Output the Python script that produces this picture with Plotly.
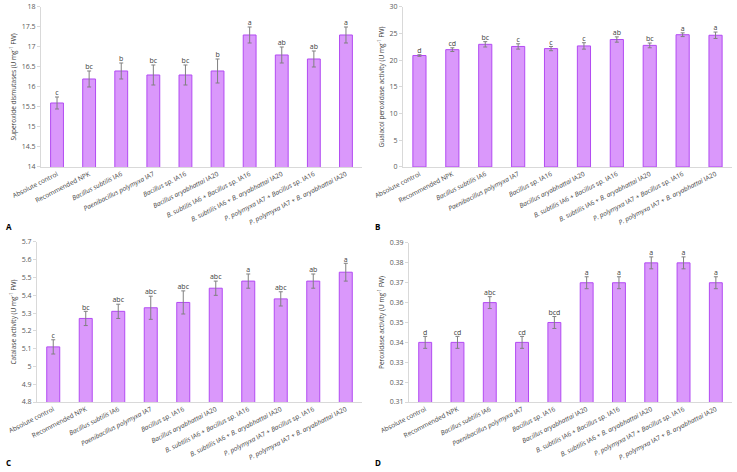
import plotly.graph_objects as go

categories = [
    "Absolute control", "Recommended NPK", "<i>Bacillus subtilis</i> IA6",
    "<i>Paenibacillus polymyxa</i> IA7", "<i>Bacillus</i> sp. IA16",
    "<i>Bacillus aryabhattai</i> IA20", "<i>B. subtilis</i> IA6 + <i>Bacillus</i> sp. IA16",
    "<i>B. subtilis</i> IA6 + <i>B. aryabhattai</i> IA20",
    "<i>P. polymyxa</i> IA7 + <i>Bacillus</i> sp. IA16",
    "<i>P. polymyxa</i> IA7 + <i>B. aryabhattai</i> IA20",
]

sod_values = [15.6, 16.2, 16.4, 16.3, 16.3, 16.4, 17.3, 16.8, 16.7, 17.3]
sod_errors = [0.15, 0.2, 0.2, 0.25, 0.25, 0.3, 0.2, 0.2, 0.2, 0.2]
sod_letters = ["c", "bc", "b", "bc", "bc", "b", "a", "ab", "ab", "a"]

gpx_values = [20.9, 22.0, 23.0, 22.6, 22.2, 22.7, 23.9, 22.8, 24.8, 24.7]
gpx_errors = [0.15, 0.35, 0.5, 0.5, 0.4, 0.6, 0.5, 0.45, 0.35, 0.6]
gpx_letters = ["d", "cd", "bc", "c", "c", "c", "ab", "bc", "a", "a"]

cat_values = [5.11, 5.27, 5.31, 5.33, 5.36, 5.44, 5.48, 5.38, 5.48, 5.53]
cat_errors = [0.04, 0.04, 0.04, 0.065, 0.065, 0.04, 0.04, 0.04, 0.04, 0.05]
cat_letters = ["c", "bc", "abc", "abc", "abc", "abc", "a", "abc", "ab", "a"]

pox_values = [0.34, 0.34, 0.36, 0.34, 0.35, 0.37, 0.37, 0.38, 0.38, 0.37]
pox_errors = [0.003] * 10
pox_letters = ["d", "cd", "abc", "cd", "bcd", "a", "a", "a", "a", "a"]

panels = [
    dict(v=sod_values, e=sod_errors, l=sod_letters, ax="", rng=[14, 18], dt=0.5,
         title="Superoxide dismutases (U mg<sup>-1</sup> FW)",
         xd=[0.0556, 0.4912], yd=[0.6462, 0.9852], tag="A", tx=0.006, ty=0.505),
    dict(v=gpx_values, e=gpx_errors, l=gpx_letters, ax="2", rng=[0, 30], dt=5,
         title="Guaiacol peroxidase activity (U mg<sup>-1</sup> FW)",
         xd=[0.5468, 0.9932], yd=[0.6462, 0.9852], tag="B", tx=0.506, ty=0.505),
    dict(v=cat_values, e=cat_errors, l=cat_letters, ax="3", rng=[4.8, 5.7], dt=0.1,
         title="Catalase activity (U mg<sup>-1</sup> FW)",
         xd=[0.0502, 0.4912], yd=[0.1483, 0.4873], tag="C", tx=0.006, ty=0.005),
    dict(v=pox_values, e=pox_errors, l=pox_letters, ax="4", rng=[0.31, 0.39], dt=0.01,
         title="Peroxidase activity (U mg<sup>-1</sup> FW)",
         xd=[0.5550, 0.9932], yd=[0.1483, 0.4852], tag="D", tx=0.506, ty=0.005),
]

fig = go.Figure()
font_fam = "Open Sans, Liberation Sans, sans-serif"
annotations = []
for p in panels:
    xa = "x" + p["ax"]
    ya = "y" + p["ax"]
    fig.add_trace(go.Bar(
        x=categories, y=p["v"], xaxis=xa, yaxis=ya,
        marker=dict(color="#DA98FB", line=dict(color="#B24BF2", width=1)),
        error_y=dict(type="data", array=p["e"], color="#808080", thickness=1, width=2),
        showlegend=False, hoverinfo="skip",
    ))
    tops = [v + e for v, e in zip(p["v"], p["e"])]
    fig.add_trace(go.Scatter(
        x=categories, y=tops, xaxis=xa, yaxis=ya, mode="text", text=p["l"],
        textposition="top center", cliponaxis=False,
        textfont=dict(size=7, color="#404040", family=font_fam),
        showlegend=False, hoverinfo="skip",
    ))
    key = p["ax"]
    fig.layout["xaxis" + key] = dict(
        domain=p["xd"], anchor=ya, showline=True, linecolor="#D9D9D9", linewidth=1,
        tickangle=-27, tickfont=dict(size=6.5, color="#404040", family=font_fam),
        ticks="", showgrid=False, fixedrange=True, automargin=False,
    )
    fig.layout["yaxis" + key] = dict(
        domain=p["yd"], anchor=xa, range=p["rng"], dtick=p["dt"], showline=True,
        linecolor="#D9D9D9", linewidth=1, ticks="outside", ticklen=3, tickcolor="#D9D9D9",
        tickfont=dict(size=7, color="#595959", family=font_fam), showgrid=False, zeroline=False,
        automargin=False, fixedrange=True,
        title=dict(text=p["title"], font=dict(size=6.5, color="#404040", family=font_fam), standoff=4),
    )
    annotations.append(dict(text="<b>" + p["tag"] + "</b>", x=p["tx"], y=p["ty"], xref="paper", yref="paper",
                            xanchor="left", yanchor="bottom", showarrow=False,
                            font=dict(size=8, color="#000000", family=font_fam)))

fig.update_layout(
    width=737, height=472, margin=dict(l=0, r=0, t=0, b=0, autoexpand=False),
    plot_bgcolor="white", paper_bgcolor="white", bargap=0.6,
    annotations=annotations,
)
fig.write_html("out.html", config={"displayModeBar": False},
               post_script="document.body.style.margin='0';document.body.style.overflow='hidden';")
